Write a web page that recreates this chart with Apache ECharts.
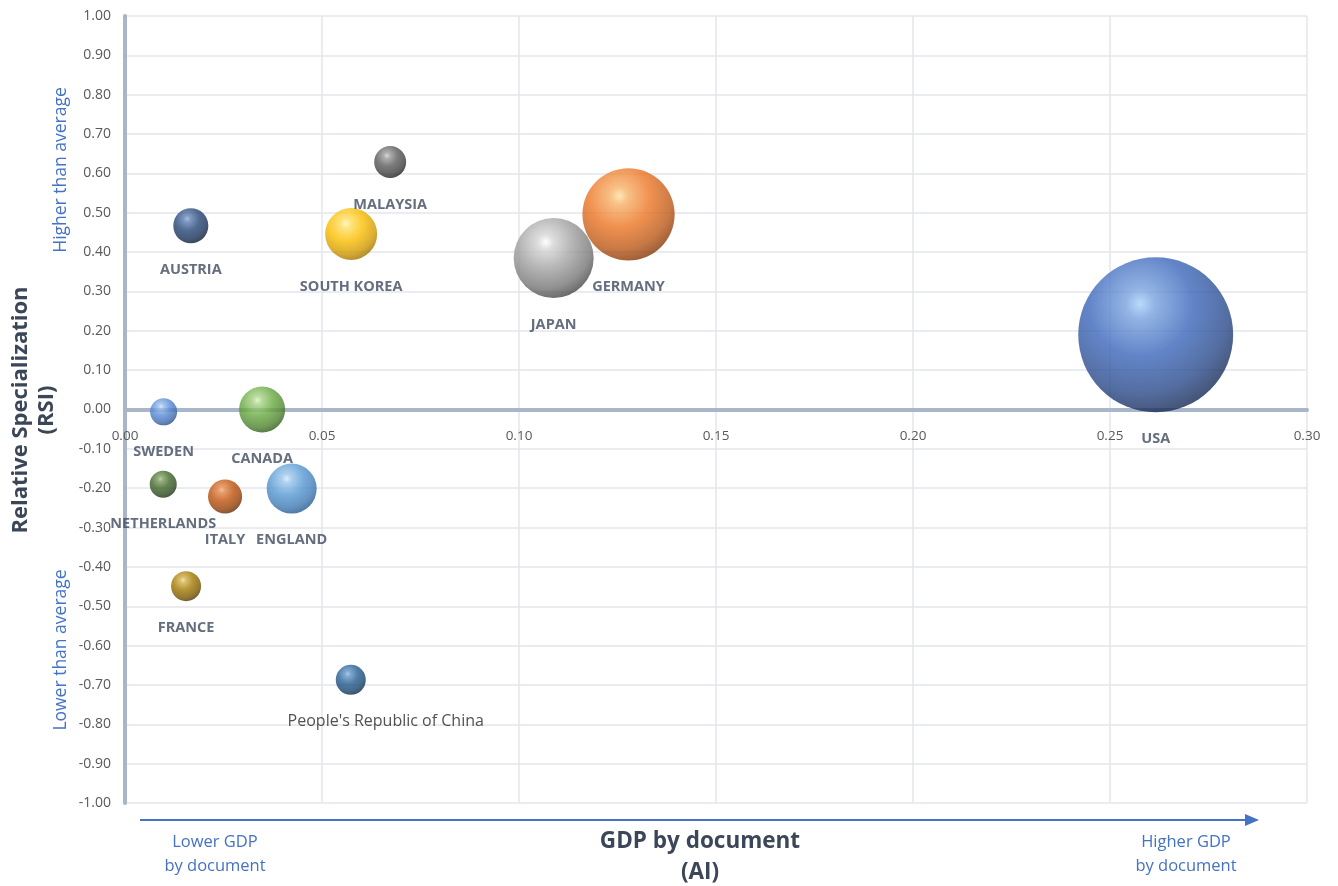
<!DOCTYPE html>
<html>
<head>
<meta charset="utf-8">
<script src="https://cdn.jsdelivr.net/npm/echarts@6/dist/echarts.min.js"></script>
<style>
html,body{margin:0;padding:0;background:#fff;}
#chart{width:1338px;height:886px;}
</style>
</head>
<body>
<div id="chart"></div>
<script>
// ---- data ----
const countries = ['USA','GERMANY','JAPAN','MALAYSIA','SOUTH KOREA','AUSTRIA','SWEDEN','CANADA','NETHERLANDS','ITALY','ENGLAND','FRANCE',"People's Republic of China"];
const gdpByDocument = [0.2616, 0.1278, 0.1088, 0.0673, 0.0574, 0.0167, 0.0098, 0.0348, 0.0097, 0.0254, 0.0423, 0.0155, 0.0573];
const rsi = [0.19, 0.496, 0.385, 0.629, 0.446, 0.467, -0.006, 0.0, -0.19, -0.221, -0.201, -0.449, -0.687];
const bubbleValue = [240, 85, 64, 10.2, 27, 12.3, 7.3, 21.2, 7.3, 11.6, 25, 9, 9];
const yTicks = { min: -1, max: 1, interval: 0.1 };
const xTicks = { min: 0, max: 0.3, interval: 0.05 };

// ---- styles ----
const palette = [
  ['#a8d0fa','#3b66ba','#14264e'],
  ['#ffe0a0','#ec7524','#7e3406'],
  ['#ffffff','#a2a2a2','#404040'],
  ['#cfcfcf','#5a5a5a','#1c1c1c'],
  ['#fff8b0','#fbbd00','#9c6c00'],
  ['#8fabdc','#264678','#0a162c'],
  ['#cfe2fa','#588bd6','#22467f'],
  ['#d8f2c0','#69aa40','#2e561a'],
  ['#a6cc86','#41652a','#182c0c'],
  ['#fab07a','#c0530c','#5e2604'],
  ['#d0e8fc','#5698d3','#22548a'],
  ['#f8dc8a','#a27800','#463300'],
  ['#90c0ea','#245c90','#0a243e']
];
function hex2rgb(h){h=h.replace('#','');return [0,2,4].map(i=>parseInt(h.substr(i,2),16));}
function mix(a,b,t){const A=hex2rgb(a),B=hex2rgb(b);return 'rgb('+A.map((v,i)=>Math.round(v+(B[i]-v)*t)).join(',')+')';}
function sphere(c){
  return {type:'radial', x:0.4, y:0.3, r:0.8,
    colorStops:[
      {offset:0,color:c[0]},
      {offset:0.12,color:mix(c[0],c[1],0.45)},
      {offset:0.42,color:c[1]},
      {offset:0.72,color:mix(c[1],c[2],0.45)},
      {offset:0.92,color:c[2]},
      {offset:1,color:c[2]}]};
}
const FONT = '"Open Sans", sans-serif';
const labelColor = '#3d4a5f';
const axisGrey = '#a9b5c9';
const gridGrey = '#e3e6ec';
const blue = '#4472c4';

const seriesData = countries.map((n,i)=>{
  const isChina = i === countries.length-1;
  return {
    name:n,
    value:[gdpByDocument[i], rsi[i], bubbleValue[i]],
    itemStyle:{color:sphere(palette[i])},
    label: isChina ? {fontWeight:'normal', fontSize:16, color:'#262626', offset:[35,0]} : undefined
  };
});

const chart = echarts.init(document.getElementById('chart'), null, {renderer:'canvas'});
chart.setOption({
  backgroundColor:'#fff',
  animation:false,
  textStyle:{fontFamily:FONT},
  grid:[
    {left:125, right:31, top:16, bottom:83, containLabel:false},
    // upper half (RSI >= 0): its bottom edge carries the GDP tick labels under the zero line
    {left:125, right:31, top:16, height:(886-83-16)/2, containLabel:false}
  ],
  xAxis:[{
    type:'value', gridIndex:0, min:xTicks.min, max:xTicks.max, interval:xTicks.interval,
    axisLine:{show:true, onZero:true, lineStyle:{color:axisGrey, width:4}},
    axisTick:{show:false},
    axisLabel:{show:false},
    splitLine:{show:true, lineStyle:{color:gridGrey, width:1.5}}
  },{
    type:'value', gridIndex:1, position:'bottom', min:xTicks.min, max:xTicks.max, interval:xTicks.interval,
    axisLine:{show:false}, axisTick:{show:false}, splitLine:{show:false},
    axisLabel:{color:'#595959', fontSize:13.5, margin:20, formatter:v=>v.toFixed(2)}
  }],
  yAxis:[{
    type:'value', gridIndex:0, min:yTicks.min, max:yTicks.max, interval:yTicks.interval,
    axisLine:{show:true, onZero:false, lineStyle:{color:axisGrey, width:4}},
    axisTick:{show:false},
    axisLabel:{color:'#595959', fontSize:14, margin:14, formatter:v=>v.toFixed(2)},
    splitLine:{show:true, lineStyle:{color:gridGrey, width:1.5}}
  },{
    type:'value', gridIndex:1, min:0, max:yTicks.max, show:false
  }],
  series:[{
    type:'scatter',
    xAxisIndex:0, yAxisIndex:0,
    data:seriesData,
    symbolSize:d=>Math.sqrt(d[2])*10,
    label:{show:true, position:'bottom', distance:19, formatter:'{b}',
      color:labelColor, fontWeight:'bold', fontSize:14.5},
    emphasis:{disabled:true}
  }],
  graphic:[
    {type:'text', x:21, y:410, rotation:Math.PI/2,
      style:{text:'Relative Specialization', fontSize:22, fontWeight:'bold', fill:'#3b4658', align:'center', verticalAlign:'middle', fontFamily:FONT}},
    {type:'text', x:47, y:410, rotation:Math.PI/2,
      style:{text:'(RSI)', fontSize:22, fontWeight:'bold', fill:'#3b4658', align:'center', verticalAlign:'middle', fontFamily:FONT}},
    {type:'text', x:61, y:170, rotation:Math.PI/2,
      style:{text:'Higher than average', fontSize:17.5, fill:blue, align:'center', verticalAlign:'middle', fontFamily:FONT}},
    {type:'text', x:61, y:650, rotation:Math.PI/2,
      style:{text:'Lower than average', fontSize:17.5, fill:blue, align:'center', verticalAlign:'middle', fontFamily:FONT}},
    {type:'line', shape:{x1:140, y1:820, x2:1248, y2:820}, style:{stroke:blue, lineWidth:2}},
    {type:'polygon', shape:{points:[[1245,814],[1259,820],[1245,826]]}, style:{fill:blue}},
    {type:'text', x:215, y:842,
      style:{text:'Lower GDP', fontSize:16.5, fill:blue, align:'center', verticalAlign:'middle', fontFamily:FONT}},
    {type:'text', x:215, y:866,
      style:{text:'by document', fontSize:16.5, fill:blue, align:'center', verticalAlign:'middle', fontFamily:FONT}},
    {type:'text', x:1186, y:842,
      style:{text:'Higher GDP', fontSize:16.5, fill:blue, align:'center', verticalAlign:'middle', fontFamily:FONT}},
    {type:'text', x:1186, y:866,
      style:{text:'by document', fontSize:16.5, fill:blue, align:'center', verticalAlign:'middle', fontFamily:FONT}},
    {type:'text', x:700, y:842,
      style:{text:'GDP by document', fontSize:22.5, fontWeight:'bold', fill:'#3b4658', align:'center', verticalAlign:'middle', fontFamily:FONT}},
    {type:'text', x:700, y:873,
      style:{text:'(AI)', fontSize:22.5, fontWeight:'bold', fill:'#3b4658', align:'center', verticalAlign:'middle', fontFamily:FONT}}
  ]
});
</script>
</body>
</html>
